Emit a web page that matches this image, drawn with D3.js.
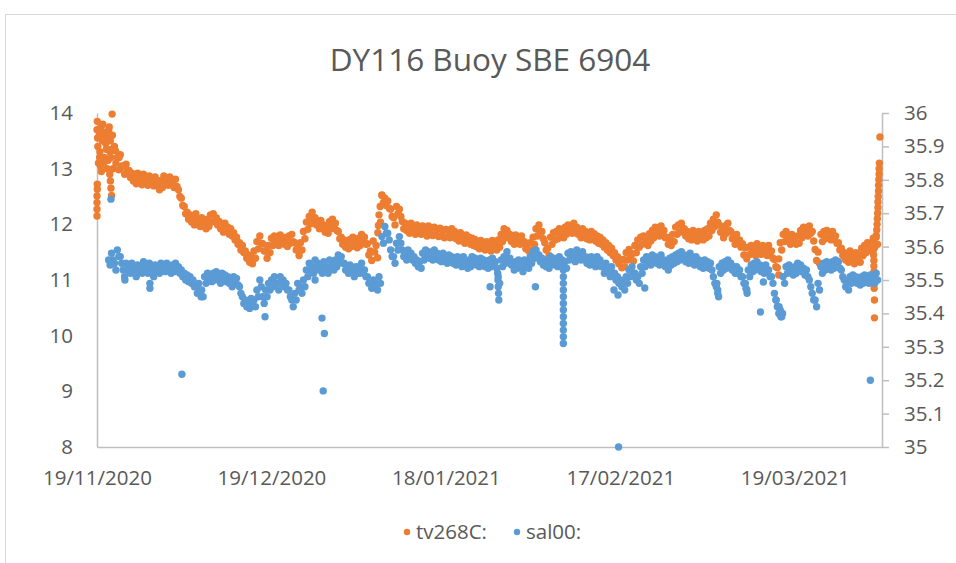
<!DOCTYPE html>
<html>
<head>
<meta charset="utf-8">
<script src="https://cdn.jsdelivr.net/npm/d3@7"></script>
<style>
  body { margin: 0; background: #fff; }
  text { font-family: 'Open Sans', sans-serif; fill: #595959; }
</style>
</head>
<body>
<div id="chart"></div>
<script>
const title = 'DY116 Buoy SBE 6904';
const seriesNames = ['tv268C:', 'sal00:'];
const xDomain = ['19/11/2020', '03/04/2021'];
const xTickLabels = ['19/11/2020', '19/12/2020', '18/01/2021', '17/02/2021', '19/03/2021'];
const leftTicks = [8, 9, 10, 11, 12, 13, 14];
const rightTicks = [35, 35.1, 35.2, 35.3, 35.4, 35.5, 35.6, 35.7, 35.8, 35.9, 36];

// tv268C: readings every 6 hours from 19/11/2020 00:00 (one line = 5 days)
const tempStart = '19/11/2020';
const tempValues = [
  13.7, 13.1, 13.3, 12.95, 13.8, 13.2, 13.45, 13.0, 13.7, 13.3, 13.35, 13.0, 13.4, 13.1, 13.2, 12.98, 13.25, 13.05, 13.05, 12.9,
  13.08, 12.94, 12.97, 12.84, 12.92, 12.78, 12.88, 12.73, 12.92, 12.79, 12.85, 12.71, 12.9, 12.76, 12.84, 12.7, 12.87, 12.74, 12.82, 12.69,
  12.85, 12.72, 12.75, 12.62, 12.79, 12.66, 12.87, 12.74, 12.83, 12.7, 12.85, 12.72, 12.79, 12.66, 12.81, 12.68, 12.62, 12.5, 12.47, 12.34,
  12.32, 12.19, 12.22, 12.09, 12.17, 12.04, 12.12, 11.99, 12.19, 12.06, 12.09, 11.96, 12.12, 11.99, 12.05, 11.92, 12.09, 11.96, 12.17, 12.04,
  12.19, 12.06, 12.12, 11.99, 12.05, 11.92, 11.99, 11.86, 12.02, 11.89, 11.95, 11.82, 11.92, 11.79, 11.85, 11.72, 11.77, 11.64, 11.67, 11.54,
  11.62, 11.49, 11.52, 11.39, 11.45, 11.32, 11.42, 11.29, 11.52, 11.39, 11.69, 11.56, 11.79, 11.66, 11.65, 11.52, 11.52, 11.39, 11.62, 11.49,
  11.75, 11.62, 11.79, 11.66, 11.75, 11.62, 11.81, 11.68, 11.77, 11.64, 11.73, 11.6, 11.79, 11.66, 11.82, 11.69, 11.67, 11.54, 11.57, 11.44,
  11.67, 11.54, 11.87, 11.74, 12.04, 11.91, 12.14, 12.01, 12.22, 12.09, 12.12, 11.99, 12.05, 11.92, 12.07, 11.94, 11.99, 11.86, 11.97, 11.84,
  12.05, 11.92, 12.09, 11.96, 12.02, 11.89, 11.87, 11.74, 11.77, 11.64, 11.72, 11.59, 11.69, 11.56, 11.73, 11.6, 11.77, 11.64, 11.71, 11.58,
  11.75, 11.62, 11.82, 11.69, 11.77, 11.64, 11.65, 11.45, 11.52, 11.35, 11.7, 11.5, 11.62, 11.4, 12.17, 12.04, 12.52, 12.39, 12.47, 12.34,
  12.42, 12.29, 12.27, 12.14, 12.12, 11.99, 12.32, 12.19, 12.27, 12.14, 12.05, 11.92, 12.02, 11.89, 11.97, 11.84, 12.02, 11.89, 11.95, 11.82,
  11.99, 11.86, 11.95, 11.82, 11.97, 11.84, 11.92, 11.79, 11.97, 11.84, 11.93, 11.8, 11.95, 11.82, 11.91, 11.78, 11.93, 11.8, 11.89, 11.76,
  11.91, 11.78, 11.89, 11.76, 11.92, 11.79, 11.87, 11.74, 11.83, 11.7, 11.85, 11.72, 11.79, 11.66, 11.81, 11.68, 11.77, 11.64, 11.75, 11.62,
  11.73, 11.6, 11.69, 11.56, 11.71, 11.58, 11.67, 11.54, 11.69, 11.56, 11.65, 11.52, 11.71, 11.58, 11.67, 11.54, 11.72, 11.59, 11.82, 11.69,
  11.92, 11.79, 11.89, 11.76, 11.82, 11.69, 11.77, 11.64, 11.81, 11.68, 11.77, 11.64, 11.79, 11.66, 11.69, 11.56, 11.65, 11.52, 11.67, 11.54,
  11.77, 11.64, 11.92, 11.79, 11.99, 11.86, 11.87, 11.74, 11.67, 11.54, 11.57, 11.44, 11.77, 11.64, 11.85, 11.72, 11.87, 11.74, 11.92, 11.79,
  11.89, 11.76, 11.95, 11.82, 11.99, 11.86, 11.97, 11.84, 12.02, 11.89, 11.95, 11.82, 11.89, 11.76, 11.92, 11.79, 11.87, 11.74, 11.85, 11.72,
  11.87, 11.74, 11.83, 11.7, 11.79, 11.66, 11.77, 11.64, 11.72, 11.59, 11.67, 11.54, 11.62, 11.49, 11.57, 11.44, 11.49, 11.36, 11.42, 11.29,
  11.35, 11.22, 11.37, 11.24, 11.49, 11.36, 11.55, 11.42, 11.47, 11.34, 11.62, 11.49, 11.72, 11.59, 11.77, 11.64, 11.79, 11.66, 11.75, 11.62,
  11.83, 11.7, 11.89, 11.76, 11.95, 11.82, 11.92, 11.79, 11.97, 11.84, 11.89, 11.76, 11.77, 11.64, 11.75, 11.62, 11.82, 11.69, 11.95, 11.82,
  11.99, 11.86, 12.02, 11.89, 11.92, 11.79, 11.87, 11.74, 11.85, 11.72, 11.89, 11.76, 11.83, 11.7, 11.87, 11.74, 11.85, 11.72, 11.89, 11.76,
  11.92, 11.79, 12.02, 11.89, 12.09, 11.96, 12.17, 12.04, 11.99, 11.86, 11.89, 11.76, 11.97, 11.84, 12.02, 11.89, 11.87, 11.74, 11.77, 11.64,
  11.82, 11.69, 11.72, 11.59, 11.65, 11.45, 11.58, 11.38, 11.59, 11.46, 11.62, 11.49, 11.57, 11.44, 11.65, 11.52, 11.59, 11.46, 11.62, 11.49,
  11.57, 11.44, 11.62, 11.49, 11.52, 11.39, 11.37, 11.24, 11.22, 11.09, 11.67, 11.54, 11.82, 11.69, 11.87, 11.74, 11.77, 11.64, 11.82, 11.69,
  11.77, 11.64, 11.79, 11.66, 11.89, 11.76, 11.95, 11.82, 11.92, 11.79, 11.97, 11.84, 11.87, 11.7, 11.55, 11.35, 11.5, 11.3, 11.82, 11.69,
  11.87, 11.74, 11.89, 11.76, 11.85, 11.72, 11.87, 11.74, 11.79, 11.66, 11.67, 11.54, 11.57, 11.44, 11.49, 11.36, 11.45, 11.32, 11.52, 11.39,
  11.42, 11.29, 11.49, 11.36, 11.45, 11.32, 11.57, 11.44, 11.62, 11.49, 11.67, 11.54, 11.65, 11.52, 11.72, 11.59, 11.77, 11.64
];
// extra tv268C readings [days after 19/11/2020, value] (start burst, jumps, end of record)
const tempExtra = [
  [0, 12.15], [0, 12.27], [0, 12.39], [0, 12.51], [0.05, 12.63], [0.05, 12.72],
  [0.05, 13.85], [0.1, 13.55], [0.15, 13.4], [0.4, 13.6], [0.45, 13.2], [0.6, 13.05],
  [0.7, 13.75], [0.9, 13.5], [1.1, 13.65], [1.15, 13.1], [1.4, 13.55], [1.6, 13.35],
  [1.8, 13.6], [1.9, 13.15], [2.1, 13.75], [2.3, 13.5], [2.35, 13.2], [2.6, 13.98], [2.65, 13.6],
  [2.2, 12.9], [2.3, 12.78], [2.4, 12.65], [2.5, 12.52],
  [3.2, 13.32], [3.8, 13.2], [4.2, 13.02],
  [48.3, 11.85], [48.4, 11.98], [48.7, 12.32], [49.0, 12.53],
  [117.25, 11.38],
  [133.5, 11.75], [133.5, 11.65], [133.55, 11.55], [133.55, 11.45], [133.6, 11.35],
  [133.6, 11.25], [133.6, 11.15], [133.65, 11.05], [133.65, 10.95], [133.65, 10.85],
  [133.7, 10.64], [133.7, 10.32],
  [134.0, 11.8], [134.1, 11.9], [134.15, 12.0], [134.2, 12.1], [134.25, 12.2],
  [134.3, 12.3], [134.3, 12.4], [134.35, 12.5], [134.4, 12.6], [134.4, 12.7],
  [134.45, 12.8], [134.5, 12.9], [134.5, 13.0], [134.55, 13.1], [134.65, 13.57]
];

// sal00: readings every 6 hours from 21/11/2020 00:00
const salStart = '21/11/2020';
const salValues = [
  35.56, 35.545, 35.58, 35.56, 35.55, 35.53, 35.59, 35.57, 35.57, 35.55, 35.53, 35.51,
  35.55, 35.53, 35.54, 35.52, 35.55, 35.53, 35.53, 35.51, 35.545, 35.525, 35.54, 35.52, 35.555, 35.535, 35.54, 35.52, 35.55, 35.53, 35.53, 35.51,
  35.545, 35.525, 35.54, 35.52, 35.55, 35.53, 35.545, 35.525, 35.55, 35.53, 35.54, 35.52, 35.545, 35.525, 35.55, 35.53, 35.54, 35.52, 35.53, 35.51,
  35.52, 35.5, 35.515, 35.495, 35.51, 35.49, 35.5, 35.48, 35.48, 35.46, 35.49, 35.47, 35.47, 35.45, 35.51, 35.49, 35.52, 35.5, 35.515, 35.495,
  35.52, 35.5, 35.525, 35.505, 35.51, 35.49, 35.52, 35.5, 35.515, 35.495, 35.51, 35.49, 35.5, 35.48, 35.51, 35.49, 35.505, 35.485, 35.48, 35.46,
  35.45, 35.43, 35.44, 35.42, 35.435, 35.415, 35.445, 35.425, 35.44, 35.42, 35.47, 35.45, 35.5, 35.48, 35.45, 35.43, 35.47, 35.45, 35.49, 35.47,
  35.5, 35.48, 35.51, 35.49, 35.49, 35.47, 35.51, 35.49, 35.5, 35.48, 35.49, 35.47, 35.47, 35.45, 35.44, 35.42, 35.46, 35.44, 35.49, 35.47,
  35.48, 35.46, 35.5, 35.48, 35.53, 35.51, 35.55, 35.53, 35.54, 35.52, 35.56, 35.54, 35.55, 35.53, 35.54, 35.52, 35.555, 35.535, 35.54, 35.52,
  35.56, 35.54, 35.55, 35.53, 35.56, 35.54, 35.575, 35.555, 35.57, 35.55, 35.55, 35.53, 35.54, 35.52, 35.545, 35.525, 35.53, 35.51, 35.54, 35.52,
  35.54, 35.52, 35.55, 35.53, 35.53, 35.51, 35.51, 35.49, 35.495, 35.475, 35.5, 35.48, 35.49, 35.47, 35.51, 35.49, 35.63, 35.61, 35.66, 35.64,
  35.64, 35.62, 35.59, 35.57, 35.57, 35.55, 35.61, 35.59, 35.63, 35.61, 35.59, 35.57, 35.58, 35.56, 35.59, 35.57, 35.58, 35.56, 35.57, 35.55,
  35.56, 35.54, 35.555, 35.535, 35.58, 35.56, 35.59, 35.57, 35.585, 35.565, 35.58, 35.56, 35.59, 35.57, 35.58, 35.56, 35.575, 35.555, 35.58, 35.56,
  35.57, 35.55, 35.575, 35.555, 35.57, 35.55, 35.565, 35.545, 35.57, 35.55, 35.56, 35.54, 35.57, 35.55, 35.555, 35.535, 35.56, 35.54, 35.57, 35.55,
  35.565, 35.545, 35.56, 35.54, 35.565, 35.545, 35.56, 35.54, 35.555, 35.535, 35.56, 35.54, 35.565, 35.545, 35.555, 35.535, 35.51, 35.49, 35.56, 35.54,
  35.57, 35.55, 35.585, 35.565, 35.565, 35.545, 35.55, 35.53, 35.555, 35.535, 35.56, 35.54, 35.545, 35.525, 35.56, 35.54, 35.555, 35.535, 35.57, 35.55,
  35.585, 35.565, 35.59, 35.57, 35.575, 35.555, 35.565, 35.545, 35.56, 35.54, 35.555, 35.535, 35.57, 35.55, 35.565, 35.545, 35.56, 35.54, 35.57, 35.55,
  35.56, 35.54, 35.555, 35.535, 35.58, 35.56, 35.585, 35.565, 35.575, 35.555, 35.59, 35.57, 35.58, 35.56, 35.585, 35.565, 35.57, 35.55, 35.565, 35.545,
  35.57, 35.55, 35.56, 35.54, 35.57, 35.55, 35.56, 35.54, 35.54, 35.52, 35.55, 35.53, 35.53, 35.51, 35.54, 35.52, 35.52, 35.5, 35.51, 35.49,
  35.5, 35.48, 35.49, 35.47, 35.51, 35.49, 35.53, 35.51, 35.54, 35.52, 35.52, 35.5, 35.51, 35.49, 35.54, 35.52, 35.56, 35.54, 35.57, 35.55,
  35.565, 35.545, 35.575, 35.555, 35.57, 35.55, 35.565, 35.545, 35.575, 35.555, 35.56, 35.54, 35.55, 35.53, 35.565, 35.545, 35.57, 35.55, 35.575, 35.555,
  35.58, 35.56, 35.585, 35.565, 35.575, 35.555, 35.57, 35.55, 35.58, 35.56, 35.565, 35.545, 35.57, 35.55, 35.56, 35.54, 35.555, 35.535, 35.56, 35.54,
  35.555, 35.535, 35.55, 35.53, 35.51, 35.49, 35.48, 35.46, 35.54, 35.52, 35.55, 35.53, 35.555, 35.535, 35.56, 35.54, 35.55, 35.53, 35.54, 35.52,
  35.54, 35.52, 35.53, 35.51, 35.51, 35.49, 35.49, 35.47, 35.53, 35.51, 35.545, 35.525, 35.55, 35.53, 35.555, 35.535, 35.545, 35.525, 35.54, 35.52,
  35.545, 35.525, 35.53, 35.51, 35.51, 35.49, 35.46, 35.44, 35.42, 35.4, 35.41, 35.39, 35.51, 35.49, 35.54, 35.52, 35.545, 35.525, 35.535, 35.515,
  35.54, 35.52, 35.55, 35.53, 35.545, 35.525, 35.535, 35.515, 35.53, 35.51, 35.5, 35.48, 35.46, 35.44, 35.44, 35.42, 35.49, 35.47, 35.54, 35.52,
  35.55, 35.53, 35.555, 35.535, 35.55, 35.53, 35.555, 35.535, 35.56, 35.54, 35.555, 35.535, 35.53, 35.51, 35.5, 35.48, 35.49, 35.47, 35.51, 35.49,
  35.515, 35.495, 35.51, 35.49, 35.505, 35.485, 35.51, 35.49, 35.515, 35.495, 35.51, 35.49, 35.515, 35.495, 35.51, 35.49, 35.52, 35.5
];
// extra sal00 readings [days after 19/11/2020, value] (spikes and outliers)
const salExtra = [
  [2.4, 35.742], [4.8, 35.5], [9.1, 35.49], [9.1, 35.475], [14.6, 35.218], [17.9, 35.45],
  [28.9, 35.39], [37.5, 35.5], [38.7, 35.386], [39.1, 35.34], [38.9, 35.168],
  [67.6, 35.48], [68.9, 35.52], [68.95, 35.5], [69.0, 35.48], [69.05, 35.46], [69.1, 35.44],
  [75.4, 35.48],
  [80.2, 35.53], [80.2, 35.51], [80.2, 35.49], [80.2, 35.47], [80.2, 35.45], [80.2, 35.43],
  [80.2, 35.41], [80.2, 35.39], [80.2, 35.37], [80.2, 35.35], [80.2, 35.33], [80.2, 35.31],
  [88.9, 35.47], [89.6, 35.455], [89.7, 35.0], [94.2, 35.476],
  [106.6, 35.49], [106.75, 35.47], [106.9, 35.45],
  [111.6, 35.475], [111.8, 35.46], [114.1, 35.404], [114.6, 35.494],
  [116.8, 35.44], [117.3, 35.42], [117.6, 35.39], [117.9, 35.4],
  [133.0, 35.2]
];

const colors = ['#ED7D31', '#5B9BD5'];

const W = 956, H = 563;
const plot = { left: 97, right: 882, top: 113, bottom: 447 };

const parseDay = d3.utcParse('%d/%m/%Y');
const x = d3.scaleUtc()
  .domain(xDomain.map(parseDay))
  .range([plot.left, plot.right]);
const yL = d3.scaleLinear().domain([8, 14]).range([plot.bottom, plot.top]);
const yR = d3.scaleLinear().domain([35, 36]).range([plot.bottom, plot.top]);

const svg = d3.select('#chart').append('svg')
  .attr('width', W)
  .attr('height', H);

// chart area border
svg.append('rect')
  .attr('x', 5.5).attr('y', 14.5)
  .attr('width', 1000).attr('height', 600)
  .attr('fill', 'none')
  .attr('stroke', '#d9d9d9');

svg.append('text')
  .attr('x', 490).attr('y', 71)
  .attr('text-anchor', 'middle')
  .style('font-size', '31.5px')
  .text(title);

// axes
const styleAxis = g => {
  g.selectAll('path, line').attr('stroke', '#bfbfbf').attr('stroke-width', 1.5);
  g.selectAll('text').style('font-size', '20.5px').attr('fill', '#595959');
};

svg.append('g')
  .attr('transform', `translate(${plot.left},0)`)
  .call(d3.axisLeft(yL).tickValues(leftTicks).tickSize(0).tickPadding(24)
    .tickFormat(d3.format('d')))
  .call(styleAxis);

svg.append('g')
  .attr('transform', `translate(${plot.right},0)`)
  .call(d3.axisRight(yR).tickValues(rightTicks).tickSizeInner(7).tickSizeOuter(0).tickPadding(15)
    .tickFormat(d => d3.format('.1f')(d).replace('.0', '')))
  .call(styleAxis);

svg.append('g')
  .attr('transform', `translate(0,${plot.bottom})`)
  .call(d3.axisBottom(x).tickValues(xTickLabels.map(parseDay)).tickSize(0).tickPadding(23)
    .tickFormat(d3.utcFormat('%d/%m/%Y')))
  .call(styleAxis);

// data points
const sixHourly = (start, i) => d3.utcHour.offset(parseDay(start), i * 6);
const dayOffset = d => d3.utcMinute.offset(parseDay(tempStart), Math.round(d * 1440));

const tempPts = tempValues.map((v, i) => ({ t: sixHourly(tempStart, i), v }))
  .concat(tempExtra.map(([d, v]) => ({ t: dayOffset(d), v })));
const salPts = salValues.map((v, i) => ({ t: sixHourly(salStart, i), v }))
  .concat(salExtra.map(([d, v]) => ({ t: dayOffset(d), v })));

svg.append('g').selectAll('circle')
  .data(tempPts)
  .enter().append('circle')
  .attr('cx', d => x(d.t))
  .attr('cy', d => yL(d.v))
  .attr('r', 3.7)
  .attr('fill', colors[0]);

svg.append('g').selectAll('circle')
  .data(salPts)
  .enter().append('circle')
  .attr('cx', d => x(d.t))
  .attr('cy', d => yR(d.v))
  .attr('r', 3.7)
  .attr('fill', colors[1]);

// legend
const legend = svg.append('g');
const legendX = [407, 517];
seriesNames.forEach((name, i) => {
  legend.append('circle')
    .attr('cx', legendX[i]).attr('cy', 532)
    .attr('r', 3.2)
    .attr('fill', colors[i]);
  legend.append('text')
    .attr('x', legendX[i] + 9).attr('y', 539)
    .style('font-size', '20.5px')
    .text(name);
});
</script>
</body>
</html>
